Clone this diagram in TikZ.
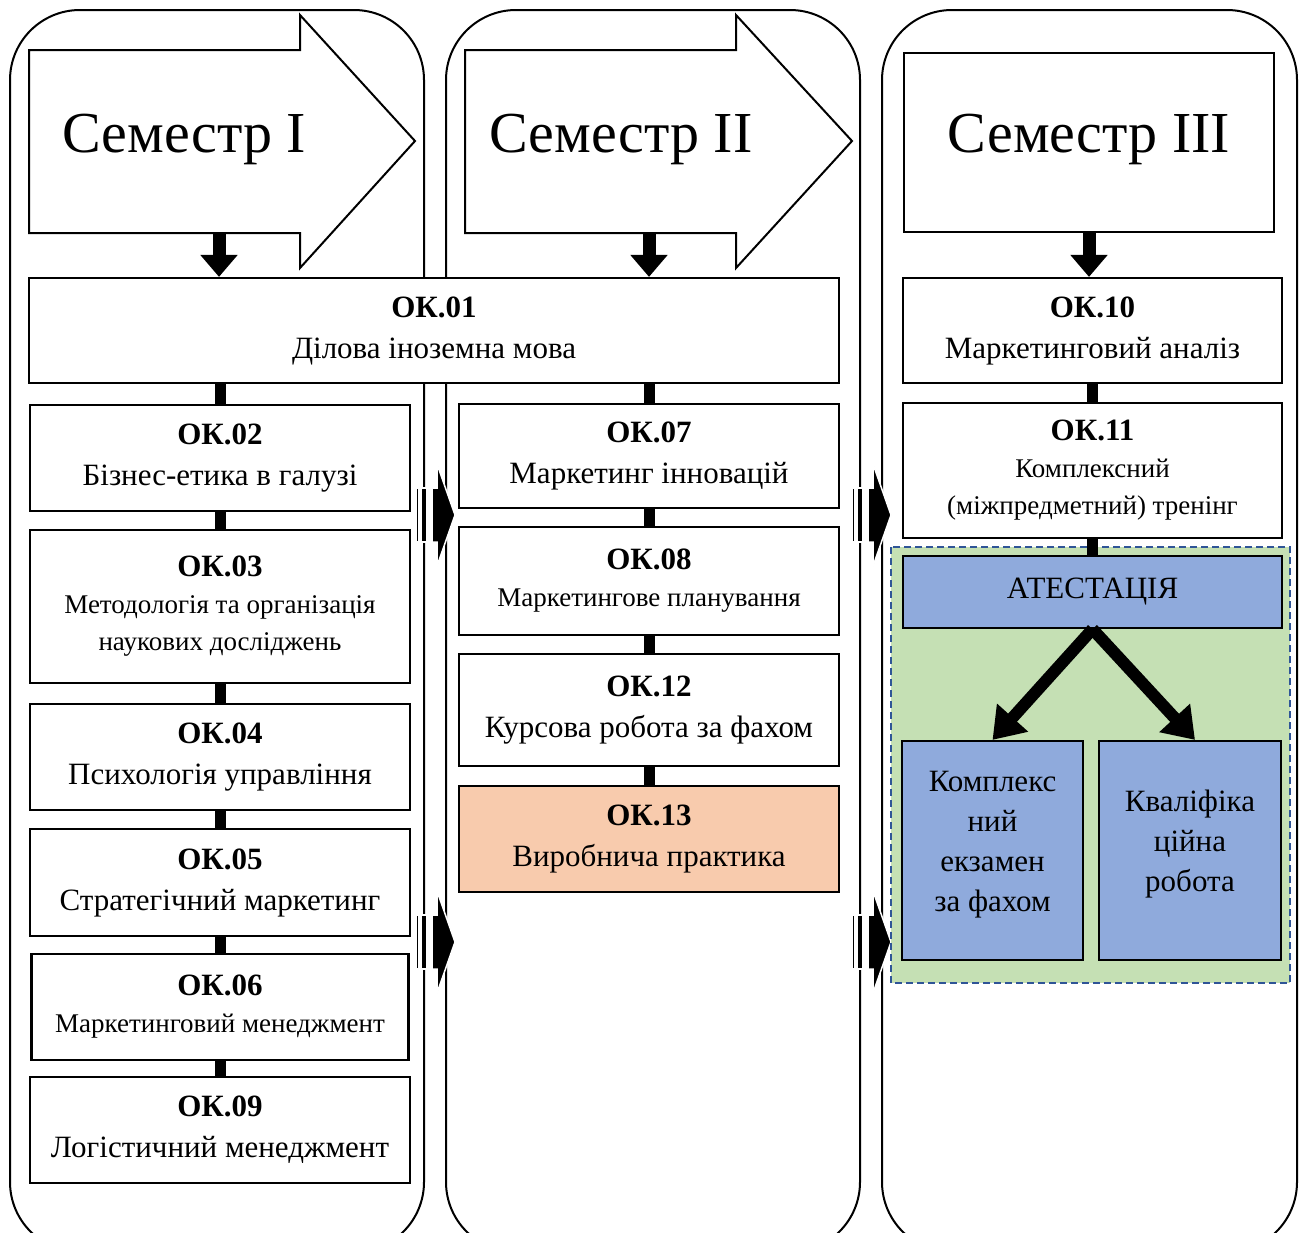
\documentclass[tikz,border=0pt]{standalone}
\usepackage{fontspec}
\setmainfont{Liberation Serif}
\usetikzlibrary{positioning,calc,arrows.meta}
\definecolor{peach}{HTML}{F8CBAD}
\definecolor{attgreen}{HTML}{C5E0B4}
\definecolor{attblue}{HTML}{8FAADC}
\definecolor{dashblue}{HTML}{2F5597}
\def\semfont{\fontsize{58}{66}\selectfont}
\def\boxfont{\fontsize{31}{41}\selectfont}
\def\smfont{\fontsize{27}{37}\selectfont}
\def\okhead#1{{\boxfont\textbf{#1}}}
\tikzset{column/.style={draw,line width=2pt,rounded corners=70pt,fill=white}}
\tikzset{okbox/.style={draw,line width=2.2pt,fill=white,align=center,inner sep=0pt,minimum width=380pt,font=\boxfont}}
\tikzset{smbox/.style={okbox,font=\smfont}}
\tikzset{link/.style={line width=11pt}}
\tikzset{downarr/.style={line width=13pt,-{Triangle[length=22pt,width=36pt]}}}
\tikzset{diagarr/.style={line width=12pt,-{Triangle[length=30pt,width=40pt]}}}
\tikzset{semarr/.style={draw,line width=2pt,fill=white,line join=miter}}
\tikzset{striped/.pic={
  \filldraw[fill=black,draw=white,line width=1.5pt] (0,-27) rectangle (2.5,27);
  \filldraw[fill=black,draw=white,line width=1.5pt] (5,-27) rectangle (11,27);
  \filldraw[fill=black,draw=white,line width=1.5pt] (16,-27) -- (21,-27) -- (21,-51) -- (39,0) -- (21,51) -- (21,27) -- (16,27) -- cycle;
}}

\begin{document}
\begin{tikzpicture}[x=1pt,y=-1pt]
	\clip (0,0) rectangle (1303,1232);
	\draw[column] (10,10) rectangle (424,1252);
	\draw[column] (446,10) rectangle (860,1252);
	\draw[column] (882,10) rectangle (1297,1252);

	\pic at (416,515) {striped};
	\pic at (416,942) {striped};
	\pic at (852,515) {striped};
	\pic at (852,942) {striped};

	\draw[semarr] (29,50) -- (300,50) -- (300,15) -- (415,141) -- (300,268) -- (300,233) -- (29,233) -- cycle;
	\node[anchor=base west,font=\semfont] (sem1) at (59,152) {Семестр I};
	\coordinate (s1) at (219,233);
	\draw[semarr] (465,50) -- (736,50) -- (736,15) -- (852,141) -- (736,268) -- (736,233) -- (465,233) -- cycle;
	\node[anchor=base west,font=\semfont] (sem2) at (486,152) {Семестр II};
	\coordinate (s2) at (649,233);
	\node[draw,line width=2pt,minimum width=370pt,minimum height=179pt,font=\semfont,text height=32pt,text depth=13pt] (sem3) at (1089,142.5) {Семестр III};

	\filldraw[fill=attgreen,draw=dashblue,dash pattern=on 7pt off 4pt,line width=1.8pt] (891,547) rectangle (1290,983);

	\node[okbox,minimum width=810pt,minimum height=105pt] (ok01) at (434,330.5) {\textbf{ОК.01}\\Ділова іноземна мова};

	\node[okbox,minimum height=106pt] (ok02) at (220,458) {\textbf{ОК.02}\\Бізнес-етика в галузі};
	\node[smbox,minimum height=153pt] (ok03) at (220,606.5) {\okhead{ОК.03}\\Методологія та організація\\наукових досліджень};
	\node[okbox,minimum height=106pt] (ok04) at (220,757) {\textbf{ОК.04}\\Психологія управління};
	\node[okbox,minimum height=107pt] (ok05) at (220,882.5) {\textbf{ОК.05}\\Стратегічний маркетинг};
	\node[smbox,minimum width=377pt,minimum height=106pt] (ok06) at (220,1007) {\okhead{ОК.06}\\Маркетинговий менеджмент};
	\node[okbox,minimum height=106pt] (ok09) at (220,1130) {\textbf{ОК.09}\\Логістичний менеджмент};

	\node[okbox,minimum height=104pt] (ok07) at (649,456) {\textbf{ОК.07}\\Маркетинг інновацій};
	\node[smbox,minimum height=108pt] (ok08) at (649,581) {\okhead{ОК.08}\\Маркетингове планування};
	\node[okbox,minimum height=112pt] (ok12) at (649,710) {\textbf{ОК.12}\\Курсова робота за фахом};
	\node[okbox,fill=peach,minimum height=106pt] (ok13) at (649,839) {\textbf{ОК.13}\\Виробнича практика};

	\node[okbox,minimum width=379pt,minimum height=105pt] (ok10) at (1092.5,330.5) {\textbf{ОК.10}\\Маркетинговий аналіз};
	\node[smbox,minimum width=379pt,minimum height=135pt] (ok11) at (1092.5,470.5) {\okhead{ОК.11}\\Комплексний\\(міжпредметний) тренінг};
	\node[okbox,fill=attblue,minimum width=379pt,minimum height=72pt] (atest) at (1092.5,592) {АТЕСТАЦІЯ};
	\node[okbox,fill=attblue,minimum width=181pt,minimum height=219pt,font=\fontsize{31}{40}\selectfont,text depth=19pt] (kompl) at (992.5,850.5) {Комплекс\\ний\\екзамен\\за фахом};
	\node[okbox,fill=attblue,minimum width=182pt,minimum height=219pt,font=\fontsize{31}{40}\selectfont,text depth=19pt] (kval) at (1190,850.5) {Кваліфіка\\ційна\\робота};

	\draw[downarr] (s1) -- (s1 |- ok01.north);
	\draw[downarr] (s2) -- (s2 |- ok01.north);
	\draw[downarr] (sem3.south) -- (sem3.south |- ok10.north);

	\draw[link] (ok02.north |- ok01.south) -- (ok02.north);
	\draw[link] (ok02.south) -- (ok03.north);
	\draw[link] (ok03.south) -- (ok04.north);
	\draw[link] (ok04.south) -- (ok05.north);
	\draw[link] (ok05.south) -- (ok06.north);
	\draw[link] (ok06.south) -- (ok09.north);
	\draw[link] (ok07.north |- ok01.south) -- (ok07.north);
	\draw[link] (ok07.south) -- (ok08.north);
	\draw[link] (ok08.south) -- (ok12.north);
	\draw[link] (ok12.south) -- (ok13.north);
	\draw[link] (ok10.south) -- (ok11.north);
	\draw[link] (ok11.south) -- (atest.north);

	\draw[diagarr] (atest.south) -- (kompl.north);
	\draw[diagarr] (atest.south) -- ([xshift=5pt]kval.north);
\end{tikzpicture}
\end{document}
